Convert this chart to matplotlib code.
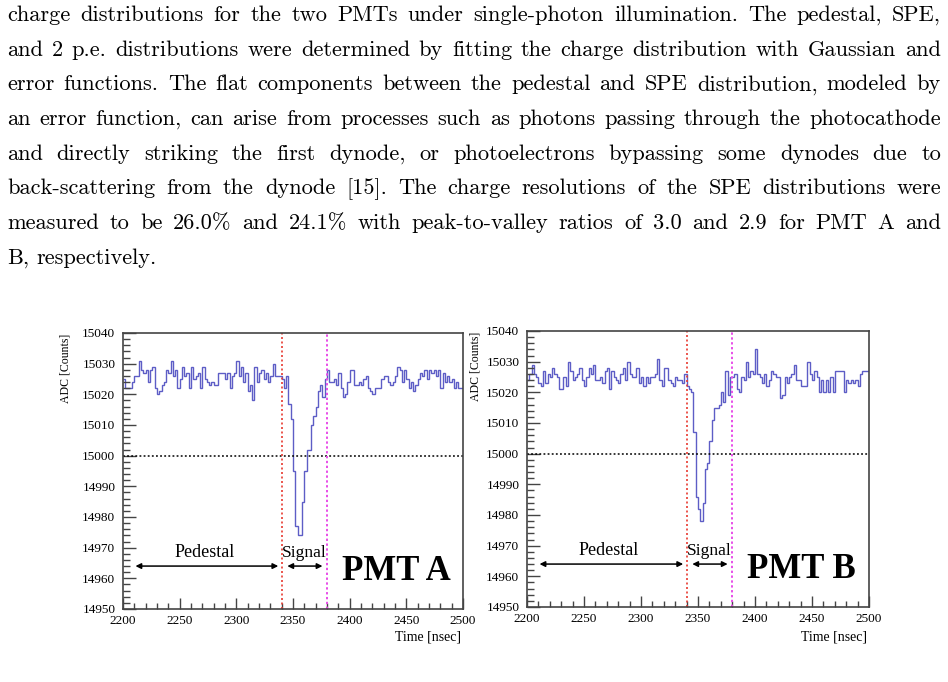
import matplotlib
matplotlib.use('Agg')
import matplotlib.pyplot as plt
from matplotlib.ticker import MultipleLocator
import numpy as np

# paragraph above the figure
para_lines = [
    "charge distributions for the two PMTs under single-photon illumination. The pedestal, SPE,",
    "and 2 p.e. distributions were determined by fitting the charge distribution with Gaussian and",
    "error functions. The flat components between the pedestal and SPE distribution, modeled by",
    "an error function, can arise from processes such as photons passing through the photocathode",
    "and directly striking the first dynode, or photoelectrons bypassing some dynodes due to",
    "back-scattering from the dynode [15]. The charge resolutions of the SPE distributions were",
    "measured to be 26.0% and 24.1% with peak-to-valley ratios of 3.0 and 2.9 for PMT A and",
    "B, respectively.",
]

# waveforms, 2 ns bins from 2200 to 2500 ns
t_start, t_stop, bin_ns = 2200, 2500, 2
ped_end = 2340
sig_end = 2380
threshold = 15000

adc_a = [
    # pedestal window
    15025, 15022, 15022, 15022, 15024, 15026, 15026, 15031, 15028, 15027,
    15028, 15024, 15028, 15029, 15022, 15020, 15021, 15023, 15024, 15028,
    15027, 15031, 15026, 15028, 15022, 15025, 15029, 15026, 15027, 15022,
    15029, 15025, 15026, 15027, 15022, 15029, 15025, 15024, 15023, 15024,
    15023, 15023, 15027, 15027, 15027, 15025, 15027, 15022, 15026, 15027,
    15031, 15026, 15029, 15024, 15027, 15021, 15023, 15018, 15029, 15024,
    15027, 15028, 15025, 15027, 15024, 15026, 15030, 15026, 15026, 15026,
    # signal window
    15025, 15022, 15026, 15017, 15012, 14995, 14977, 14974, 14974, 14985,
    14995, 15002, 15002, 15010, 15013, 15016, 15021, 15023, 15019, 15025,
    # after signal
    15028, 15024, 15024, 15025, 15023, 15027, 15022, 15019, 15020, 15024,
    15028, 15028, 15023, 15023, 15024, 15023, 15025, 15026, 15022, 15021,
    15020, 15022, 15022, 15022, 15025, 15026, 15026, 15024, 15023, 15024,
    15026, 15029, 15028, 15024, 15028, 15025, 15022, 15024, 15021, 15023,
    15025, 15027, 15026, 15028, 15025, 15028, 15027, 15028, 15026, 15028,
    15022, 15027, 15024, 15026, 15024, 15025, 15022, 15024, 15022, 15022,
]

adc_b = [
    # pedestal window
    15024, 15026, 15029, 15026, 15025, 15023, 15022, 15027, 15023, 15026,
    15025, 15028, 15026, 15025, 15021, 15021, 15025, 15022, 15030, 15027,
    15024, 15025, 15026, 15028, 15024, 15022, 15025, 15028, 15026, 15029,
    15024, 15024, 15025, 15023, 15027, 15028, 15021, 15027, 15025, 15024,
    15023, 15026, 15028, 15024, 15030, 15026, 15025, 15025, 15028, 15023,
    15025, 15022, 15025, 15023, 15025, 15025, 15026, 15031, 15024, 15022,
    15028, 15028, 15024, 15023, 15022, 15025, 15024, 15024, 15023, 15026,
    # signal window
    15022, 15021, 15020, 15007, 14986, 14982, 14978, 14984, 14995, 14997,
    15004, 15011, 15015, 15015, 15016, 15020, 15017, 15027, 15019, 15025,
    # after signal
    15025, 15026, 15021, 15020, 15025, 15024, 15030, 15025, 15027, 15026,
    15034, 15026, 15025, 15023, 15026, 15022, 15024, 15027, 15026, 15025,
    15025, 15018, 15019, 15025, 15023, 15025, 15026, 15029, 15024, 15024,
    15022, 15022, 15022, 15030, 15026, 15024, 15027, 15025, 15020, 15024,
    15020, 15024, 15020, 15025, 15020, 15027, 15027, 15027, 15027, 15020,
    15024, 15023, 15024, 15023, 15024, 15022, 15026, 15027, 15027, 15027,
]

W, H = 948, 682
fig = plt.figure(figsize=(W / 100, H / 100), dpi=100)
fig.patch.set_facecolor('white')

# ---- justified paragraph ----
renderer = fig.canvas.get_renderer()
text_left, text_right = 7, 941
base0, line_step = 21, 34.7

# pick the largest size at which the longest line still fits
probe = fig.text(0, 0, '', fontsize=10, family='cmr10')
widest = 0
for line in para_lines:
    probe.set_text(line)
    widest = max(widest, probe.get_window_extent(renderer).width)
probe.remove()
fs_text = 10 * (text_right - text_left) * 0.985 / widest

for i, line in enumerate(para_lines):
    y = 1 - (base0 + i * line_step) / H
    words = line.split(' ')
    objs = [fig.text(0, y, w, fontsize=fs_text, family='cmr10', va='baseline')
            for w in words]
    widths = [o.get_window_extent(renderer).width for o in objs]
    if i < len(para_lines) - 1:
        gap = (text_right - text_left - sum(widths)) / (len(words) - 1)
    else:
        gap = 0.33 * fs_text * 100 / 72
    x = text_left
    for o, wd in zip(objs, widths):
        o.set_x(x / W)
        x += wd + gap


def px_axes(l, r, t, b):
    return fig.add_axes([l / W, 1 - b / H, (r - l) / W, (b - t) / H])


serif = 'Liberation Serif'
trace_col = '#5d5dc6'
edges = np.arange(t_start, t_stop + bin_ns, bin_ns)

panels = [
    (adc_a, 'PMT A', (123, 463, 333, 609), 65),
    (adc_b, 'PMT B', (527, 869, 331, 607), 476),
]

for adc, name, box, ylab_x in panels:
    ax = px_axes(*box)
    ax.stairs(adc, edges, baseline=None, color=trace_col, lw=1.0)
    ax.axhline(threshold, color='black', ls=(0, (1.2, 1.5)), lw=1.1)
    ax.axvline(ped_end, color='#e83a30', ls=(0, (1.2, 1.5)), lw=1.2)
    ax.axvline(sig_end, color='#e84ee8', ls=(0, (1.2, 1.3)), lw=1.4)
    ax.set_xlim(t_start, t_stop)
    ax.set_ylim(14950, 15040)

    ax.xaxis.set_major_locator(MultipleLocator(50))
    ax.xaxis.set_minor_locator(MultipleLocator(10))
    ax.yaxis.set_major_locator(MultipleLocator(10))
    ax.yaxis.set_minor_locator(MultipleLocator(2))
    ax.tick_params(which='both', direction='in', top=False, right=False,
                   color='#444444')
    ax.tick_params(axis='y', which='major', length=9, width=1, pad=5.5)
    ax.tick_params(axis='y', which='minor', length=5, width=1)
    ax.tick_params(axis='x', which='major', length=8, width=1, pad=4.5)
    ax.tick_params(axis='x', which='minor', length=4.5, width=1)
    for lab in ax.get_xticklabels() + ax.get_yticklabels():
        lab.set_fontfamily(serif)
        lab.set_fontsize(9.5)
    for sp in ax.spines.values():
        sp.set_color('#444444')
        sp.set_linewidth(1.2)

    # window annotations
    arrow = dict(arrowstyle='<|-|>', lw=1.1, color='black',
                 mutation_scale=8, shrinkA=0, shrinkB=0)
    ax.annotate('', xy=(2337, 14964), xytext=(2211, 14964), arrowprops=arrow)
    ax.annotate('', xy=(2376, 14964), xytext=(2345, 14964), arrowprops=arrow)
    ax.text(2272, 14967, 'Pedestal', family=serif, fontsize=13,
            ha='center', va='baseline')
    ax.text(2360, 14967, 'Signal', family=serif, fontsize=12.5,
            ha='center', va='baseline')
    ax.text(2441, 14959.5, name, family=serif, fontsize=25, weight='bold',
            ha='center', va='baseline')

    l, r, t, b = box
    fig.text(ylab_x / W, 1 - (t + 1) / H, 'ADC [Counts]', family=serif,
             fontsize=8.5, rotation=90, ha='center', va='top')
    fig.text((r - 2) / W, 1 - 637 / H, 'Time [nsec]', family=serif,
             fontsize=10, ha='right', va='center')

fig.savefig('out.png', dpi=100)
